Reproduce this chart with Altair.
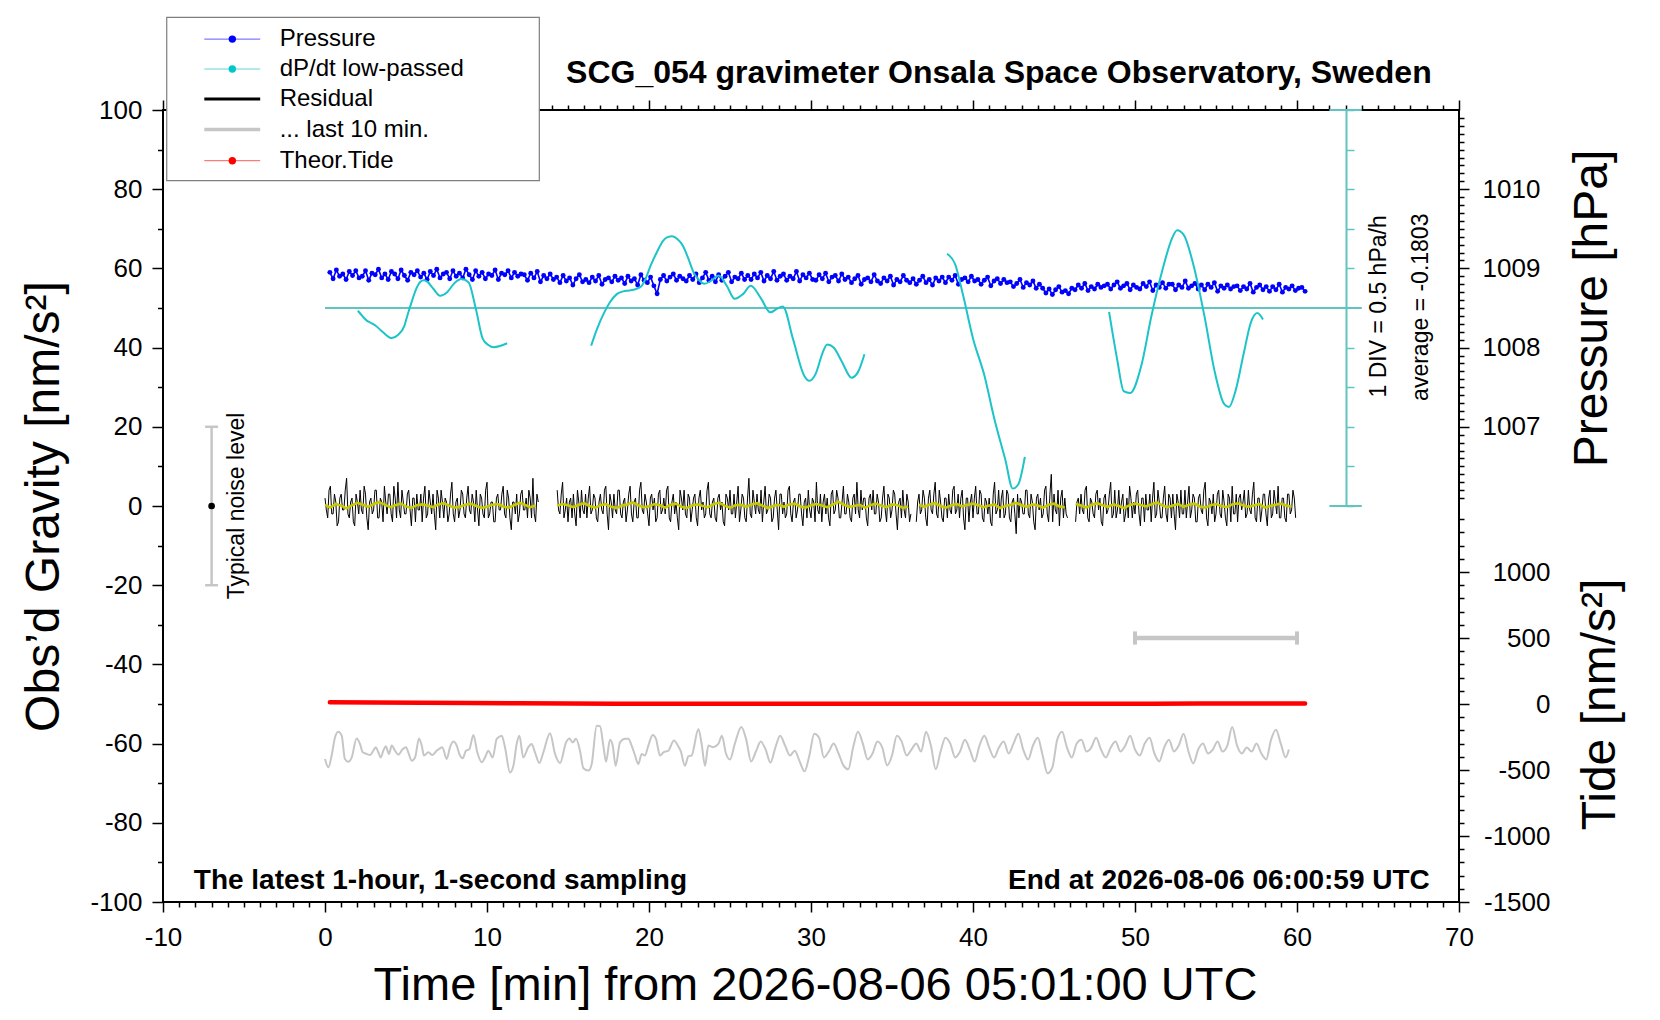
import altair as alt
import pandas as pd

FONT = "Liberation Sans"
W, H = 1296, 792

# ---------------- data ----------------
# Residual [nm/s^2]: samples at t = i/6 min (a) and at t = (i+0.5)/6 min (b)
residual_a = [
    2, -3, 5, -2, 1, -4, 3, -1, 7, -3, 2, -5, 1, 4, -2, 3, -6, 2, -1, 4,
    -3, 1, 5, -2, 3, -4, 2, 6, -3, 1, -2, 4, -5, 2, 3, -1, -4, 5, -2, 1,
    3, -6, 2, 4, -3, 1, -2, 6, -4, 2, -1, 3, -3, 5, -2, 1, 4, -5, 2, -3,
    6, -2, 1, -4, 3, -1, 5, -3, 2, -6, 1, 3, -2, 4, -1, -3, 2, 7, -4, 1,
    -2, 3, -5, 2, 1, -3, 4, -2, 6, -1, -4, 2, 3, -5, 1, 4, -2, -3, 5, -1,
    2, -4, 3, -2, 5, -6, 1, 3, -2, 4, -3, 2, -1, 5, -4, 2, -3, 6, -2, 1,
    -5, 3, 2, -3, 4, -1, -2, 5, -4, 3, 1, -6, 2, 4, -3, 2, -1, 3, -5, 4,
    1, -2, 6, -3, 2, -4, 3, 1, -5, 2, 4, -2, -3, 5, -1, 2, -4, 7, -3, 1,
    3, -2, -4, 5, -1, 2, -3, 4, -6, 3, 1, -2, 5, -4, 2, -1, 3, -5, 2, 4,
    -3, 1, 6, -2, -4, 3, 2, -5, 4, -1, 2, -3, 5, -2, 1, -4, 3, 6, -3, -1,
    2, -5, 3, 4, -2, 1, -3, 5, -4, 2, -1, 3, -6, 2, 4, -3, 1, -2, 5, -4,
    3, -1, 2, -5, 4, -2, 6, -3, 1, -4, 2, 3, -2, 5, -1, -3, 4, -6, 2, 1,
    -3, 5, -2, 3, -4, 1, 2, -5, 6, -1, -3, 4, -2, 3, -4, 2, -7, -3, 1, -2,
    4, -3, 1, -6, 3, 2, -2, 5, -4, 8, 3, -2, -5, 4, 2, -3, 6, -1, -4, 2,
    3, -2, 5, -4, 1, -3, 4, 2, -5, 3, -1, 6, -2, -3, 4, 1, -4, 2, 5, -3,
    -2, 4, -5, 2, 3, -1, -4, 6, -2, 1, -3, 5, -4, 2, 3, -6, 1, 4, -2, -3,
    5, -1, 2, -4, 3, -2, 6, -5, 1, 3, -2, 4, -3, 1, -5, 2, 5, -2, -4, 3,
    1, -3, 4, -2, 6, -4, 2, -1, 3, -5, 4, -2, 1, 5, -3, 2, -4, 3, -1, 2,
]
residual_b = [
    -1, 4, -2, 3, -5, 2, -1, 4, -2, 1, -4, 3, -2, -1, 5, -3, 1, -2, 4, -3,
    2, -4, 1, 3, -2, 5, -3, -1, 4, -2, 3, -1, 2, -4, -1, 3, 2, -3, 4, -2,
    -2, 4, -3, 1, 2, -4, 3, -2, 1, -3, 4, -2, 2, -1, 3, -4, -1, 3, -2, 4,
    -3, 1, -4, 2, -1, 3, -2, 4, -3, 1, -2, -4, 3, -1, 2, 4, -3, -2, 3, -2,
    4, -1, 2, -3, -2, 4, -1, 3, -3, 2, 1, -3, -2, 4, -3, -1, 3, 2, -2, 3,
    -3, 1, -1, 4, -2, 3, -3, -1, 4, -2, 1, -4, 3, -2, 1, -3, 4, -1, 3, -2,
    2, -1, -4, 3, -2, 2, 4, -3, 1, -2, -3, 4, -1, -2, 3, -4, 2, -3, 2, -1,
    -3, 4, -2, 1, -3, 2, -1, -4, 3, -1, -2, 3, 1, -4, 3, -3, 2, -2, 4, -2,
    -1, 4, 1, -2, 3, -4, 2, -1, 3, -2, -3, 4, -2, 1, -3, 3, -2, 1, -3, -1,
    2, -4, -1, 3, 1, -2, -3, 3, -2, 4, -3, 1, -2, 3, -3, 2, -2, -1, 4, 2,
    -3, 2, -1, -2, 3, -4, 2, -1, 3, -3, 4, -2, 1, -3, -1, 3, -4, 3, -2, 1,
    -2, 4, -3, 2, -1, 3, -2, 4, -3, 2, -3, -1, 4, -2, 3, 2, -3, 2, -4, 3,
    2, -2, 4, -3, 2, -2, -4, 3, -2, 4, 2, -3, 4, -3, 1, -2, 3, 2, -2, 4,
    -2, 3, -4, 2, -1, -3, 4, -2, 3, -4, -1, 4, 2, -3, -2, 4, -3, 3, 1, -2,
    -1, 4, -3, 2, -2, 3, -1, -4, 2, -2, 3, -3, 4, -1, -2, 3, -2, -3, 2, 1,
    3, -2, 2, -4, -1, 3, 2, -3, 4, -3, 2, -2, 3, -3, -2, 3, -3, -2, 4, 1,
    -3, 3, -4, 2, -1, 4, -3, 2, -2, -4, 3, -2, 4, -3, 3, -4, -2, 3, 2, -1,
    4, -2, -1, 3, -3, 2, -4, 3, -2, 2, -3, 4, -2, -3, 2, -3, 3, -2, 4, -3,
]
RES_STEP = 1 / 6

# low-passed residual (yellow), one value every 20 s
smooth = [
    0.3, -0.4, 0.5, 0.1, -0.6, 0.2, 0.8, 0.3, -0.2, 0.5, 1.0, 0.4, -0.3, 0.2, 0.6, -0.1, -0.5, 0.2, 0.4, 0.1,
    -0.3, 0.4, 0.7, 0.1, -0.4, -0.2, 0.3, 0.6, 0.0, -0.5, -0.2, 0.3, 0.5, -0.1, -0.4, 0.2, 0.8, 0.3, -0.3, 0.1,
    0.4, -0.2, -0.6, 0.1, 0.5, 0.2, -0.3, 0.3, 0.7, 0.0, -0.4, 0.2, 0.5, -0.2, -0.5, 0.1, 0.4, 0.9, 0.2, -0.3,
    -0.1, 0.5, 0.2, -0.4, 0.3, 0.6, -0.2, -0.5, 0.1, 0.4, 0.0, -0.3, 0.5, 0.8, 0.1, -0.4, 0.2, 0.3, -0.2, 0.4,
    0.7, 0.1, -0.5, 0.0, 0.3, -0.2, 0.4, 0.6, -0.1, -0.4, 0.2, 0.5, 0.1, -0.3, 0.3, 1.1, 0.4, -0.2, 0.0, 0.3,
    -0.4, 0.2, 0.6, 0.1, -0.3, 0.4, 0.2, -0.5, -0.1, 0.5, 0.3, -0.2, 0.4, 0.7, 0.0, -0.4, 0.2, 0.5, -0.1, 0.3,
    0.6, 0.2, -0.3, 0.1, 0.4, -0.5, 0.0, 0.3, 0.8, 0.2, -0.2, 0.4, 0.1, -0.4, 0.3, 0.6, -0.1, -0.3, 0.2, 0.5,
    0.1, -0.4, 0.3, 0.7, 0.2, -0.2, 0.4, 0.0, -0.5, 0.2, 0.6, 0.3, -0.1, 0.4, 0.9, 0.2, -0.3, 0.1, 0.5, -0.2,
    0.3, 0.6, -0.1, -0.4, 0.2, 0.5, 0.0, -0.3, 0.4, 0.7, 0.2, -0.2, 0.1, 0.5, -0.4, 0.0, 0.3, 0.6, 0.1, -0.2,
]
SMOOTH_STEP = 1 / 3

GAPS = [(13.2, 14.3), (36.2, 36.5), (45.9, 46.3)]

# air pressure, hundredths of hPa above 1008 hPa, one value every 12 s from t = 0.3 min
pressure_c = [
    95, 87, 98, 90, 93, 86, 96, 91, 97, 88,
    90, 97, 85, 94, 92, 99, 88, 93, 86, 96,
    93, 87, 98, 91, 85, 95, 92, 97, 89, 94,
    86, 96, 91, 99, 88, 93, 95, 87, 97, 90,
    94, 88, 99, 92, 86, 97, 90, 95, 87, 93,
    91, 98, 86, 94, 92, 97, 88, 95, 90, 93,
    92, 85, 94, 88, 96, 83, 91, 87, 93, 86,
    89, 82, 91, 84, 88, 79, 87, 92, 83, 86,
    82, 89, 84, 91, 80, 86, 88, 83, 90, 85,
    88, 81, 90, 84, 87, 79, 92, 85, 82, 89,
    78, 68, 86, 91, 84, 89, 93, 85, 90, 87,
    84, 91, 86, 93, 82, 88, 95, 85, 90, 83,
    92, 85, 90, 95, 83, 89, 87, 94, 86, 91,
    86, 93, 88, 95, 84, 91, 87, 96, 85, 90,
    93, 85, 90, 87, 96, 84, 92, 88, 94, 86,
    85, 92, 87, 94, 83, 89, 91, 84, 93, 86,
    89, 82, 87, 91, 80, 86, 88, 83, 92, 84,
    81, 88, 84, 90, 79, 86, 83, 91, 85, 82,
    87, 80, 85, 90, 82, 86, 79, 88, 84, 89,
    82, 89, 85, 91, 80, 86, 88, 83, 90, 84,
    86, 80, 85, 89, 78, 84, 87, 81, 86, 82,
    83, 77, 81, 86, 76, 82, 79, 84, 75, 80,
    75, 69, 74, 67, 73, 77, 70, 72, 68, 75,
    73, 79, 75, 81, 72, 77, 74, 80, 76, 78,
    80, 74, 79, 83, 75, 78, 81, 73, 79, 76,
    74, 81, 77, 83, 72, 79, 76, 82, 75, 80,
    80, 73, 79, 76, 84, 75, 78, 81, 74, 79,
    73, 80, 76, 82, 71, 78, 75, 79, 74, 77,
    78, 72, 77, 74, 81, 70, 76, 79, 73, 77,
    71, 77, 73, 80, 70, 76, 74, 78, 72, 75,
    76, 71,
]
PRES_BASE, PRES_T0, PRES_STEP = 1008.0, 0.3, 0.2

# dP/dt low-passed [hPa/h], four pieces
AVG = -0.1803
dp_t1 = [2.03, 2.3, 2.58, 2.85, 3.13, 3.6, 4.12, 4.5, 4.9, 5.1, 5.34, 5.6, 5.89, 6.1, 6.33, 6.7, 7.1,
         7.54, 8.0, 8.42, 8.86, 9.3, 9.74, 10.1, 10.41, 10.8, 11.24]
dp_v1 = [-0.215, -0.280, -0.340, -0.370, -0.405, -0.490, -0.560, -0.520, -0.405, -0.265, -0.110,
         0.045, 0.150, 0.170, 0.150, 0.060, -0.025, 0.020, 0.135, 0.185, 0.145, -0.180, -0.570,
         -0.650, -0.675, -0.660, -0.625]
dp_t2 = [16.43, 16.8, 17.24, 17.6, 18.01, 18.4, 18.78, 19.2, 19.55, 19.8, 20.1, 20.5, 20.88, 21.15,
         21.43, 21.75, 22.09, 22.4, 22.75, 23.1, 23.41, 23.85, 24.3, 24.8, 25.29, 25.8, 26.28, 26.9,
         27.49, 27.9, 28.26, 28.9, 29.58, 29.9, 30.3, 30.7, 31.0, 31.4, 31.9, 32.5, 32.9, 33.3]
dp_v2 = [-0.655, -0.440, -0.235, -0.105, -0.005, 0.030, 0.040, 0.060, 0.100, 0.195, 0.355, 0.530,
         0.670, 0.715, 0.725, 0.690, 0.605, 0.460, 0.270, 0.170, 0.125, 0.165, 0.230, 0.100, -0.065,
         -0.005, 0.100, -0.055, -0.235, -0.190, -0.160, -0.580, -1.035, -1.100, -1.005, -0.755,
         -0.640, -0.680, -0.855, -1.060, -0.990, -0.765]
dp_t3 = [38.4, 38.9, 39.4, 40.0, 40.7, 41.3, 42.0, 42.45, 42.8, 43.2]
dp_v3 = [0.505, 0.370, -0.030, -0.565, -1.030, -1.565, -2.100, -2.460, -2.405, -2.060]
dp_t4 = [48.4, 48.9, 49.3, 49.7, 50.4, 51.0, 51.7, 52.3, 52.6, 53.0, 53.6, 54.3, 54.9, 55.5, 55.8,
         56.2, 56.7, 57.15, 57.55, 57.9]
dp_v4 = [-0.230, -0.830, -1.230, -1.255, -0.900, -0.295, 0.305, 0.705, 0.800, 0.745, 0.370, -0.295,
         -0.965, -1.390, -1.430, -1.230, -0.765, -0.365, -0.245, -0.325]

# theoretical tide [nm/s^2]
tide_t = [0.3, 3, 6, 9, 12, 15, 18, 21, 24, 27, 30, 33, 36, 39, 42, 45, 48, 51, 54, 57, 60, 60.5]
tide_v = [13, 11, 9, 7, 5, 3.5, 2.5, 2, 1.5, 1.3, 1.2, 1.2, 1.2, 1.4, 1.6, 2, 2.3, 2.6, 3, 3.3, 3.5, 3.5]

# residual of the last 10 minutes, stretched over the hour (grey)
gray_t = [0.0, 0.21, 0.41, 0.62, 0.82, 1.03, 1.23, 1.44, 1.65, 1.95, 2.16, 2.33, 2.57, 2.78, 2.98, 3.13,
          3.29, 3.44, 3.60, 3.75, 3.95, 4.12, 4.32, 4.53, 4.79, 5.0, 5.14, 5.35, 5.56, 5.80, 5.97, 6.11,
          6.38, 6.63, 6.89, 7.10, 7.24, 7.51, 7.72, 7.92, 8.13, 8.29, 8.50, 8.70, 8.91, 9.16, 9.40, 9.67,
          9.88, 10.08, 10.35, 10.6, 10.91, 11.11, 11.42, 11.63, 11.83, 12.0, 12.24, 12.55, 12.76, 12.96,
          13.23, 13.48, 13.89, 14.2, 14.51, 14.88, 15.08, 15.29, 15.49, 15.74, 15.95, 16.26, 16.46,
          16.77, 16.98, 17.18, 17.35, 17.59, 17.76, 17.94, 18.21, 18.52, 18.72, 18.93, 19.14, 19.34,
          19.55, 19.75, 19.96, 20.23, 20.43, 20.68, 20.89, 21.19, 21.54, 21.81, 21.95, 22.22, 22.43,
          22.63, 23.05, 23.25, 23.46, 23.66, 23.97, 24.28,
          24.5, 24.75, 25.0, 25.3, 25.7, 26.0, 26.3, 26.6, 26.9, 27.2, 27.5, 27.8, 28.1, 28.4, 28.7,
          29.0, 29.3, 29.6, 29.9, 30.2, 30.5, 30.8, 31.1, 31.4, 31.7, 32.0, 32.3, 32.6, 32.9, 33.2,
          33.5, 33.8, 34.1, 34.4, 34.7, 35.0, 35.3, 35.6, 35.9, 36.2, 36.5, 36.8, 37.1, 37.4, 37.7,
          38.0, 38.3, 38.6, 38.9, 39.2, 39.5, 39.8, 40.1, 40.4, 40.7, 41.0, 41.3, 41.6, 41.9, 42.2,
          42.5, 42.8, 43.1, 43.4, 43.7, 44.0, 44.3, 44.6, 44.9, 45.2, 45.5, 45.8, 46.1, 46.4, 46.7,
          47.0, 47.3, 47.6, 47.9, 48.2, 48.5, 48.8, 49.1, 49.4, 49.7, 50.0, 50.3, 50.6, 50.9, 51.2,
          51.5, 51.8, 52.1, 52.4, 52.7, 53.0, 53.3, 53.6, 53.9, 54.2, 54.5, 54.8, 55.1, 55.4, 55.7,
          56.0, 56.3, 56.6, 56.9, 57.2, 57.5, 57.8, 58.1, 58.4, 58.7, 59.0, 59.3, 59.5]
gray_g = [-63.9, -66.0, -63.0, -58.4, -57.0, -58.0, -63.9, -64.6, -63.5, -58.7, -60.1, -62.2, -62.6,
          -62.9, -61.8, -60.9, -62.2, -63.5, -61.8, -60.7, -62.6, -60.5, -61.8, -62.8, -61.4, -60.9,
          -62.2, -64.3, -63.5, -58.7, -60.5, -63.0, -62.2, -62.9, -61.8, -61.2, -60.9, -63.9, -60.9,
          -59.5, -60.5, -62.6, -63.7, -61.8, -61.4, -57.8, -62.2, -64.7, -63.5, -61.8, -63.5, -58.8,
          -58.0, -60.9, -67.3, -65.6, -60.1, -58.0, -63.5, -60.9, -60.1, -62.2, -64.9, -62.2, -57.4,
          -62.6, -64.9, -59.7, -58.7, -59.7, -58.8, -61.8, -66.2, -66.8, -65.2, -55.5, -55.6, -60.5,
          -64.6, -59.0, -60.5, -65.6, -59.7, -58.8, -58.8, -60.5, -63.0, -65.2, -62.6, -63.0, -60.5,
          -57.8, -58.8, -63.0, -62.2, -61.8, -59.2, -60.7, -61.8, -65.6, -63.2, -63.0, -56.3, -60.1,
          -65.6, -60.5, -60.9, -60.1,
          -58.0, -62.5, -64.0, -60.0, -55.8, -59.0, -64.5, -62.0, -59.5, -61.5, -64.8, -61.0, -58.0,
          -60.5, -63.0, -61.8, -64.5, -67.0, -63.0, -57.5, -58.5, -63.5, -62.0, -60.0, -62.5, -65.5,
          -66.5, -61.0, -57.0, -60.0, -64.0, -62.5, -59.5, -61.0, -65.5, -63.0, -58.0, -59.5, -63.0,
          -61.5, -60.0, -62.0, -57.0, -60.5, -66.5, -62.0, -58.5, -60.0, -63.5, -62.0, -59.0, -61.5,
          -64.5, -60.5, -58.0, -61.0, -63.5, -61.0, -59.5, -62.5, -60.0, -57.5, -61.5, -64.0, -60.5,
          -58.5, -63.0, -67.5, -66.0, -59.0, -57.0, -61.0, -63.5, -60.0, -59.0, -62.0, -61.0, -58.5,
          -61.5, -63.5, -61.0, -59.5, -62.0, -60.5, -58.0, -61.5, -63.0, -60.0, -58.5, -62.5, -64.5,
          -61.0, -59.0, -62.0, -60.5, -57.5, -62.0, -65.0, -61.5, -60.0, -62.5, -61.5, -59.5, -62.0,
          -60.5, -55.8, -60.5, -62.5, -61.0, -62.0, -60.0, -62.5, -64.0, -59.0, -56.5, -60.0, -63.5,
          -61.5]

legend_labels = ["Pressure", "dP/dt low-passed", "Residual", "... last 10 min.", "Theor.Tide"]

# ---------------- tables ----------------
def gapped(ts, vs):
    rows = []
    for t, v in sorted(zip(ts, vs)):
        if any(a < t < b for a, b in GAPS):
            continue
        rows.append((t, v, sum(1 for a, b in GAPS if t >= b)))
    return pd.DataFrame(rows, columns=["t", "g", "seg"])

res_t = [i * RES_STEP for i in range(len(residual_a))] + [(i + 0.5) * RES_STEP for i in range(len(residual_b))]
df_res = gapped(res_t, residual_a + residual_b)
df_smooth = gapped([i * SMOOTH_STEP for i in range(len(smooth))], smooth)
df_p = pd.DataFrame({"t": [PRES_T0 + i * PRES_STEP for i in range(len(pressure_c))],
                     "p": [PRES_BASE + v / 100 for v in pressure_c]})
df_gray = pd.DataFrame({"t": gray_t, "g": gray_g})
df_tide = pd.DataFrame({"t": tide_t, "tide": tide_v})
dp_rows = []
for k, (ts, vs) in enumerate([(dp_t1, dp_v1), (dp_t2, dp_v2), (dp_t3, dp_v3), (dp_t4, dp_v4)]):
    dp_rows += [(t, v, k) for t, v in zip(ts, vs)]
df_dp = pd.DataFrame(dp_rows, columns=["t", "d", "seg"])
dummy = pd.DataFrame({"t": [0.0], "g": [0.0], "p": [1008.0], "tide": [0.0], "d": [AVG]})

# ---------------- scales ----------------
XS = alt.Scale(domain=[-10, 70], nice=False, zero=False)
GS = alt.Scale(domain=[-100, 100], nice=False, zero=False)
PS = alt.Scale(domain=[1006, 1011], range=[396, 0], nice=False, zero=False)
TS = alt.Scale(domain=[-1500, 1500], range=[792, 396], nice=False, zero=False)
CS = alt.Scale(domain=[AVG - 2.5, AVG + 2.5], range=[396, 0], nice=False, zero=False)

LBL = "toString(datum.value)"

def xq(field="t", axis=None):
    return alt.X(f"{field}:Q", scale=XS, axis=axis)

def gq(field="g", axis=None):
    return alt.Y(f"{field}:Q", scale=GS, axis=axis)

# ---------------- gravity-scale marks ----------------
res_line = alt.Chart(df_res).mark_line(color="black", strokeWidth=1.0).encode(
    x=xq(), y=gq(), detail="seg:N")
smooth_line = alt.Chart(df_smooth).mark_line(color="#c9c900", strokeWidth=2.6).encode(
    x=xq(), y=gq(), detail="seg:N")
gray_line = alt.Chart(df_gray).mark_line(color="#c6c6c6", strokeWidth=2, interpolate="monotone").encode(
    x=xq(), y=gq())

noise = pd.DataFrame({"t": [-7.0], "lo": [-20.0], "hi": [20.0], "g": [0.0]})
noise_bar = alt.Chart(noise).mark_rule(color="#c6c6c6", strokeWidth=2.5).encode(
    x=xq(), y=gq("lo"), y2="hi:Q")
noise_caps = alt.Chart(pd.DataFrame({"c0": [-7.4, -7.4], "c1": [-6.6, -6.6], "g": [-20.0, 20.0]})).mark_rule(
    color="#c6c6c6", strokeWidth=2.5).encode(x=xq("c0"), x2="c1:Q", y=gq())
noise_dot = alt.Chart(noise).mark_circle(color="black", size=45, opacity=1).encode(x=xq(), y=gq())

def label(df, **kw):
    return alt.Chart(pd.DataFrame(df)).mark_text(font=FONT, color="black", **kw).encode(
        x=xq(), y=gq(), text="txt:N")

title_txt = label({"t": [41.6], "g": [109.4], "txt": ["SCG_054 gravimeter Onsala Space Observatory, Sweden"]},
                  fontSize=32, fontWeight="bold", align="center", baseline="middle")
left_note = label({"t": [-8.1], "g": [-94.6], "txt": ["The latest 1-hour, 1-second sampling"]},
                  fontSize=28, fontWeight="bold", align="left", baseline="middle")
right_note = label({"t": [68.2], "g": [-94.6], "txt": ["End at 2026-08-06 06:00:59 UTC"]},
                   fontSize=28, fontWeight="bold", align="right", baseline="middle")
noise_txt = label({"t": [-5.45], "g": [0.0], "txt": ["Typical noise level"]},
                  fontSize=23, angle=270, align="center", baseline="middle")
div_txt = label({"t": [65.05, 67.65], "g": [50.4, 50.2], "txt": ["1 DIV = 0.5 hPa/h", "average = -0.1803"]},
                fontSize=23, angle=270, align="center", baseline="middle")

# legend drawn in the gravity / time frame, above the plot
leg = pd.DataFrame({
    "txt": legend_labels,
    "g": [117.9, 110.35, 102.8, 95.05, 87.2],
    "x0": [-7.45] * 5, "x1": [-4.0] * 5, "xd": [-5.72] * 5, "xt": [-2.8] * 5,
    "lcol": ["#5a5aff", "#5fd6d6", "#000000", "#c6c6c6", "#ff5a5a"],
    "dcol": ["#0000ff", "#00c8c8", "#000000", "#c6c6c6", "#ff0000"],
    "lw": [1.0, 1.0, 3.0, 3.5, 1.0],
    "dot": [1, 1, 0, 0, 1],
})
leg_box = alt.Chart(pd.DataFrame({"a": [-9.77], "b": [13.23], "lo": [82.15], "hi": [123.4]})).mark_rect(
    fill="white", stroke="#7f7f7f", strokeWidth=1.2).encode(x=xq("a"), x2="b:Q", y=gq("lo"), y2="hi:Q")
leg_lines = alt.Chart(leg).mark_rule().encode(
    x=xq("x0"), x2="x1:Q", y=gq(),
    color=alt.Color("lcol:N", scale=None), strokeWidth=alt.StrokeWidth("lw:Q", scale=None))
leg_dots = alt.Chart(leg[leg["dot"] == 1]).mark_circle(size=55, opacity=1).encode(
    x=xq("xd"), y=gq(), color=alt.Color("dcol:N", scale=None))
leg_text = alt.Chart(leg).mark_text(font=FONT, fontSize=24, align="left", baseline="middle",
                                     color="black").encode(x=xq("xt"), y=gq(), text="txt:N")

grav = alt.layer(res_line, smooth_line, gray_line, noise_bar, noise_caps, noise_dot,
                 title_txt, left_note, right_note, noise_txt, div_txt,
                 leg_box, leg_lines, leg_dots, leg_text)

# ---------------- axes (each carried by an invisible point) ----------------
def ghost(x, y):
    return alt.Chart(dummy).mark_point(opacity=0).encode(x=x, y=y)

AX_BOTTOM = alt.Axis(orient="bottom", values=list(range(-10, 71, 10)), tickSize=10, labelFontSize=26,
                     labelPadding=12, labelFlush=False, labelExpr=LBL,
                     title="Time [min] from 2026-08-06 05:01:00 UTC", titleFontSize=47,
                     titleX=652, titleY=83, titleBaseline="middle", titleAlign="center")
AX_LEFT = alt.Axis(orient="left", values=list(range(-100, 101, 20)), tickSize=11, labelFontSize=26,
                   labelPadding=10, labelExpr=LBL, title="Obs\u2019d Gravity [nm/s\u00b2]",
                   titleFontSize=48, titleAngle=270, titleX=-119, titleY=396,
                   titleBaseline="middle", titleAlign="center")
minor_x = [v for v in range(-10, 71) if v % 10]
x_bottom_major = ghost(xq(axis=AX_BOTTOM), gq())
x_bottom_minor = ghost(xq(axis=alt.Axis(orient="bottom", values=minor_x, tickSize=5, labels=False, title=None)), gq())
x_top_major = ghost(xq(axis=alt.Axis(orient="top", values=list(range(-10, 71, 10)), tickSize=10,
                                     labels=False, title=None)), gq())
x_top_minor = ghost(xq(axis=alt.Axis(orient="top", values=minor_x, tickSize=5, labels=False, title=None)), gq())
g_major = ghost(xq(), gq(axis=AX_LEFT))
g_minor = ghost(xq(), gq(axis=alt.Axis(orient="left", values=list(range(-90, 100, 20)), tickSize=5.5,
                                       labels=False, title=None)))

# ---------------- pressure ----------------
AX_P = alt.Axis(orient="right", values=[1007, 1008, 1009, 1010], tickSize=10, labelFontSize=26,
                labelPadding=13, labelAlign="left", labelBaseline="middle", labelExpr=LBL,
                title="Pressure [hPa]", titleFontSize=48, titleAngle=270, titleX=133, titleY=198,
                titleBaseline="middle", titleAlign="center")
p_line = alt.Chart(df_p).mark_line(color="#0000ff", strokeWidth=1.6).encode(
    x=xq(), y=alt.Y("p:Q", scale=PS, axis=AX_P))
p_pts = alt.Chart(df_p).mark_circle(color="#0000ff", size=24, opacity=1).encode(
    x=xq(), y=alt.Y("p:Q", scale=PS))
pres = alt.layer(p_line, p_pts)
p_minor_vals = [round(1006 + k * 0.1, 1) for k in range(1, 50) if k % 10]
p_minor = ghost(xq(), alt.Y("p:Q", scale=PS, axis=alt.Axis(orient="right", values=p_minor_vals, tickSize=5,
                                                           labels=False, title=None)))

# ---------------- tide ----------------
AX_T = alt.Axis(orient="right", values=[-1500, -1000, -500, 0, 500, 1000], tickSize=10, labelFontSize=26,
                labelPadding=81, labelAlign="right", labelBaseline="middle", labelExpr=LBL,
                title="Tide [nm/s\u00b2]", titleFontSize=48, titleAngle=270, titleX=141, titleY=594,
                titleBaseline="middle", titleAlign="center")
tide_line = alt.Chart(df_tide).mark_line(color="#ff0000", strokeWidth=4.5, strokeCap="round").encode(
    x=xq(), y=alt.Y("tide:Q", scale=TS, axis=AX_T))
span = pd.DataFrame({"a": [50.0], "b": [60.0], "v": [500.0]})
span_bar = alt.Chart(span).mark_rule(color="#c6c6c6", strokeWidth=4.5).encode(
    x=xq("a"), x2="b:Q", y=alt.Y("v:Q", scale=TS))
span_caps = alt.Chart(pd.DataFrame({"t": [50.0, 60.0], "lo": [450.0, 450.0], "hi": [550.0, 550.0]})).mark_rule(
    color="#c6c6c6", strokeWidth=4).encode(x=xq(), y=alt.Y("lo:Q", scale=TS), y2="hi:Q")
tide = alt.layer(tide_line, span_bar, span_caps)
t_minor_vals = [v for v in range(-1400, 1500, 100) if v % 500]
t_minor = ghost(xq(), alt.Y("tide:Q", scale=TS, axis=alt.Axis(orient="right", values=t_minor_vals, tickSize=5,
                                                              labels=False, title=None)))

# ---------------- dP/dt ----------------
CYAN_AX = "#62c3c3"
AX_C = alt.Axis(orient="right", offset=-113, values=[round(AVG + 0.5 * k, 4) for k in range(-5, 6) if k],
                tickSize=8, tickColor=CYAN_AX, tickWidth=1.5, labels=False, title=None,
                domain=True, domainColor=CYAN_AX, domainWidth=2)
dp_line = alt.Chart(df_dp).mark_line(color="#1cc4c8", strokeWidth=2, interpolate="monotone").encode(
    x=xq(), y=alt.Y("d:Q", scale=CS, axis=AX_C), detail="seg:N")
centre = alt.Chart(pd.DataFrame({"a": [0.0], "b": [64.0], "d": [AVG]})).mark_rule(
    color=CYAN_AX, strokeWidth=2).encode(x=xq("a"), x2="b:Q", y=alt.Y("d:Q", scale=CS))
caps = alt.Chart(pd.DataFrame({"a": [62.0, 62.0], "b": [64.0, 64.0], "d": [AVG - 2.5, AVG + 2.5]})).mark_rule(
    color=CYAN_AX, strokeWidth=2).encode(x=xq("a"), x2="b:Q", y=alt.Y("d:Q", scale=CS))
dpdt = alt.layer(centre, caps, dp_line)

chart = alt.layer(
    x_bottom_major, g_major, grav, g_minor, x_bottom_minor, x_top_major, x_top_minor,
    pres, p_minor, tide, t_minor, dpdt,
).resolve_scale(y="independent").resolve_axis(x="independent", y="independent").properties(
    width=W, height=H,
    autosize=alt.AutoSizeParams(type="none"),
    padding={"left": 155, "top": 102, "right": 185, "bottom": 110},
).configure_axis(
    grid=False, domain=False, tickColor="black", tickWidth=1.5, labelColor="black", titleColor="black",
    labelFont=FONT, titleFont=FONT, titleFontWeight="normal",
).configure_view(stroke="black", strokeWidth=2)

chart.save("out.html", embed_options={"renderer": "svg", "actions": False})
